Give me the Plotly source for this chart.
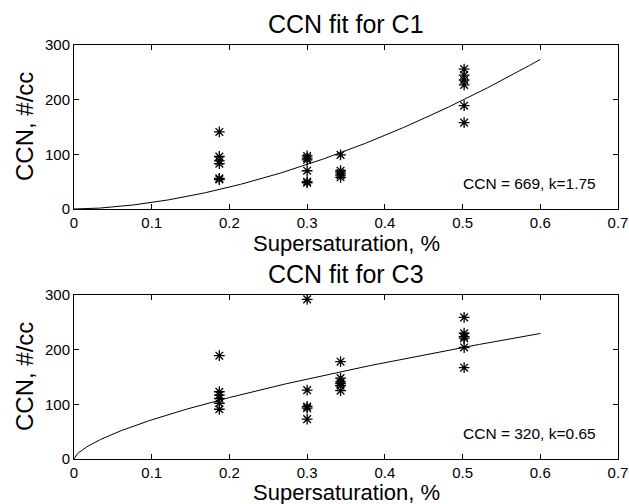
import numpy as np
import plotly.graph_objects as go

# Measured data, C1
c1_s = [0.187]*6 + [0.300]*6 + [0.343]*5 + [0.502]*6
c1_ccn = [141, 96, 88, 83, 56, 54,
          97, 93, 90, 70, 50, 48,
          99, 70, 66, 62, 58,
          256, 245, 236, 227, 189, 158]
# Measured data, C3
c3_s = [0.187]*6 + [0.300]*5 + [0.343]*6 + [0.502]*6
c3_ccn = [189, 123, 117, 111, 102, 91,
          292, 126, 96, 93, 73,
          178, 148, 141, 138, 134, 125,
          259, 230, 224, 221, 204, 167]

# Fit parameters shown on the chart
c1_fit_C, c1_fit_k = 669, 1.75
c3_fit_C, c3_fit_k = 320, 0.65
fit_smax = 0.6

x_ticks = [0, 0.1, 0.2, 0.3, 0.4, 0.5, 0.6, 0.7]
y_ticks = [0, 100, 200, 300]

s_fit = np.linspace(0, fit_smax, 301)
c1_fit = c1_fit_C * s_fit ** c1_fit_k
c3_fit = c3_fit_C * s_fit ** c3_fit_k

FONT = "Liberation Sans, Arial, Helvetica, sans-serif"
fig = go.Figure()
star = dict(symbol="asterisk-open", size=9, color="black", line=dict(color="black", width=1.3))
fig.add_trace(go.Scatter(x=c1_s, y=c1_ccn, mode="markers", marker=star, xaxis="x", yaxis="y", showlegend=False))
fig.add_trace(go.Scatter(x=s_fit, y=c1_fit, mode="lines", line=dict(color="black", width=1), xaxis="x", yaxis="y", showlegend=False))
fig.add_trace(go.Scatter(x=c3_s, y=c3_ccn, mode="markers", marker=star, xaxis="x2", yaxis="y2", showlegend=False))
fig.add_trace(go.Scatter(x=s_fit, y=c3_fit, mode="lines", line=dict(color="black", width=1), xaxis="x2", yaxis="y2", showlegend=False))

MT, MB, ML, MR = 45, 45, 74, 11
H = 504
PH = H - MT - MB  # plot-area height in px

def py(px):
    """pixel row -> paper fraction"""
    return (H - MB - px) / PH

top_dom = [py(209), py(45)]
bot_dom = [py(459), py(295)]

def xax(anchor):
    return dict(range=[0, 0.7], tickvals=x_ticks, ticktext=[f"{v:g}" for v in x_ticks],
                ticks="inside", ticklen=5, tickcolor="black", showline=True, linecolor="black",
                linewidth=1, mirror="ticks", showgrid=False, zeroline=False, anchor=anchor,
                domain=[0, 1], automargin=False,
                tickfont=dict(size=15, color="black", family=FONT))

def yax(anchor, dom):
    return dict(range=[0, 300], tickvals=y_ticks, ticks="inside", ticklen=5, tickcolor="black",
                showline=True, linecolor="black", linewidth=1, mirror="ticks", showgrid=False,
                zeroline=False, anchor=anchor, domain=dom, automargin=False,
                tickfont=dict(size=15, color="black", family=FONT))

def txt(text, x, y, size, xref="paper", yref="paper", angle=0):
    return dict(text=text, x=x, y=y, xref=xref, yref=yref, showarrow=False, textangle=angle,
                font=dict(size=size, color="black", family=FONT), xanchor="center", yanchor="middle")

fig.update_layout(
    width=629, height=504,
    margin=dict(l=ML, r=MR, t=MT, b=MB),
    paper_bgcolor="white", plot_bgcolor="white",
    font=dict(family=FONT, color="black"),
    xaxis=xax("y"), yaxis=yax("x", top_dom),
    xaxis2=xax("y2"), yaxis2=yax("x2", bot_dom),
    annotations=[
        txt("CCN fit for C1", 0.5, py(24), 25),
        txt("CCN fit for C3", 0.5, py(274), 25),
        txt("Supersaturation, %", 0.5, py(243), 22),
        txt("Supersaturation, %", 0.5, py(493), 22),
        txt("CCN, #/cc", -(ML - 24) / (629 - ML - MR), py(127), 24, angle=-90),
        txt("CCN, #/cc", -(ML - 24) / (629 - ML - MR), py(377), 24, angle=-90),
        txt(f"CCN = {c1_fit_C}, k={c1_fit_k}", 0.586, 47, 15.5, xref="x", yref="y"),
        txt(f"CCN = {c3_fit_C}, k={c3_fit_k}", 0.586, 47, 15.5, xref="x2", yref="y2"),
    ],
)

fig.write_html("out.html", config={"displayModeBar": False},
               post_script="document.body.style.margin='0';document.body.style.overflow='hidden';")
